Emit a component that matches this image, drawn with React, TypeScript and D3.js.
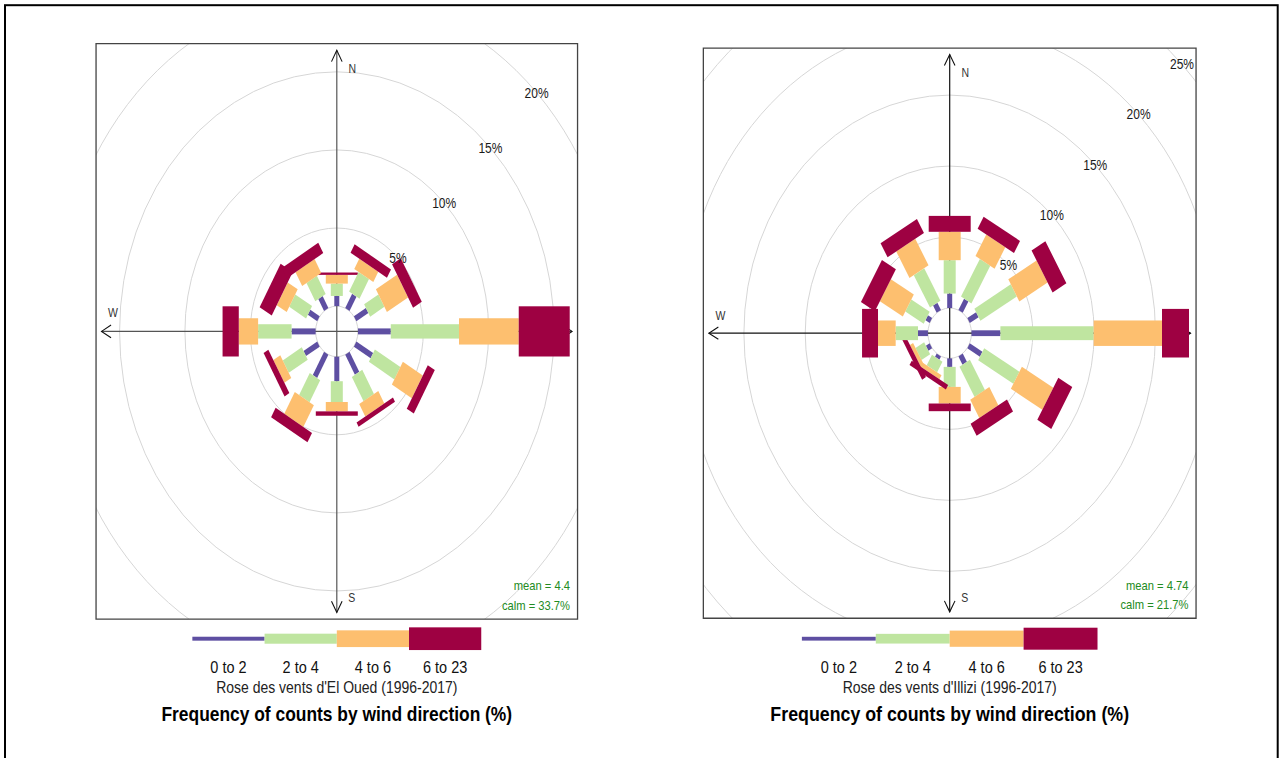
import React from "react";
import * as d3 from "d3";

// Wind directions (degrees clockwise from north) and speed classes
const directions = [0, 30, 60, 90, 120, 150, 180, 210, 240, 270, 300, 330];
const speedBins = ["0 to 2", "2 to 4", "4 to 6", "6 to 23"];
const binColours = ["#5E4FA2", "#BFE5A0", "#FDBF6F", "#9E0142"];
const gridPercents = [0, 5, 10, 15, 20, 25];

// El Oued: frequency (%) per direction for each speed class
const elOued0to2 = [0.65, 1.06, 1.06, 2.51, 1.48, 1.48, 1.57, 1.72, 1.21, 1.84, 0.83, 0.88];
const elOued2to4 = [0.79, 1.45, 1.26, 5.22, 2.25, 1.79, 1.33, 1.63, 1.68, 2.56, 1.49, 1.34];
const elOued4to6 = [0.56, 0.76, 1.87, 4.57, 1.76, 0.92, 0.6, 1.61, 0.61, 1.48, 0.88, 1.02];
const elOued6to23 = [0.15, 0.62, 0.77, 3.9, 0.62, 0.31, 0.28, 0.69, 0.42, 1.24, 1.07, 0.76];

// Illizi: frequency (%) per direction for each speed class
const illizi0to2 = [1.02, 0.92, 0.83, 2.36, 1.19, 0.67, 0.6, 0.26, 0.35, 0.81, 0.39, 0.59];
const illizi2to4 = [2.35, 3.07, 3.43, 7.6, 3.31, 2.46, 1.41, 0.86, 0.81, 1.82, 1.73, 2.64];
const illizi4to6 = [2.0, 1.75, 2.66, 5.57, 2.96, 1.47, 1.17, 0.33, 0.29, 1.44, 2.16, 2.16];
const illizi6to23 = [1.12, 0.98, 1.3, 2.2, 1.31, 0.98, 0.54, 0.36, 0.36, 1.3, 1.31, 1.14];

const FONT = "'Liberation Sans', Arial, Helvetica, sans-serif";
const paddleWidths = [5, 12, 22, 42];
const keyThickness = [3.3, 8.4, 14, 19];

type RoseSpec = {
  id: string;
  cx: number;
  cy: number;
  half: number;
  sy: number;
  pxPerPct: number;
  bins: number[][];
  mean: string;
  calm: string;
  station: string;
  axisColour: string;
  titleSize: number;
};

const roses: RoseSpec[] = [
  {
    id: "eloued",
    cx: 336.8,
    cy: 331.4,
    half: 240.75,
    sy: 1.195,
    pxPerPct: 13.07,
    bins: [elOued0to2, elOued2to4, elOued4to6, elOued6to23],
    mean: "mean = 4.4",
    calm: "calm = 33.7%",
    station: "Rose des vents d'El Oued (1996-2017)",
    axisColour: "#555",
    titleSize: 17.4,
  },
  {
    id: "illizi",
    cx: 949.7,
    cy: 333.2,
    half: 246.35,
    sy: 1.157,
    pxPerPct: 12.27,
    bins: [illizi0to2, illizi2to4, illizi4to6, illizi6to23],
    mean: "mean = 4.74",
    calm: "calm = 21.7%",
    station: "Rose des vents d'Illizi (1996-2017)",
    axisColour: "#111",
    titleSize: 17.8,
  },
];

function WindRose({ spec }: { spec: RoseSpec }) {
  const { id, cx, cy, half, sy, pxPerPct, bins } = spec;

  // total frequency per direction sets the radial extent; the hollow centre is 10% of it
  const totals = directions.map((_, i) => d3.sum(bins, (b) => b[i]));
  const maxFreq = d3.max(totals) as number;
  const hole = maxFreq / 10;
  const r = d3
    .scaleLinear()
    .domain([0, 40])
    .range([0, 40 * pxPerPct]);
  const rad = (v: number) => r(v + hole);

  const segments = directions.flatMap((dir, i) => {
    let cum = 0;
    return bins.map((arr, b) => {
      const lo = cum;
      cum += arr[i];
      return { dir, b, lo, hi: cum };
    });
  });

  const L = half - 5.5;
  const toLocal = (screenY: number) => (screenY - cy) / sy;
  const seg = 0.15 * 2 * half;
  const keyY = toLocal(638.7);
  const clipId = `clip-${id}`;

  const arrow = (angle: number) => (
    <path
      key={`arrow-${angle}`}
      transform={`rotate(${angle})`}
      d={`M${-5.3},${-(L - 9.5)} L0,${-L} L${5.3},${-(L - 9.5)}`}
      fill="none"
      stroke="#111"
      strokeWidth={1.1}
      vectorEffect="non-scaling-stroke"
    />
  );

  const dirLabels = [
    { t: "N", x: 15.5, y: -(L - 15.5) },
    { t: "S", x: 15, y: L - 12.5 },
    { t: "W", x: -(L - 11.5), y: -15.5 },
    { t: "E", x: L - 11.5, y: -15.5 },
  ];

  return (
    <g transform={`translate(${cx},${cy}) scale(1,${sy})`} fontFamily={FONT}>
      <defs>
        <clipPath id={clipId}>
          <rect x={-half} y={-half} width={2 * half} height={2 * half} />
        </clipPath>
      </defs>
      <rect x={-half} y={-half} width={2 * half} height={2 * half} fill="#fff" />
      <g clipPath={`url(#${clipId})`}>
        {gridPercents.map((p) => (
          <circle
            key={`grid-${p}`}
            r={rad(p)}
            fill="none"
            stroke="#d6d6d6"
            strokeWidth={1}
            vectorEffect="non-scaling-stroke"
          />
        ))}
        <line x1={0} y1={-L} x2={0} y2={L} stroke={spec.axisColour} strokeWidth={1.2} vectorEffect="non-scaling-stroke" />
        <line x1={-L} y1={0} x2={L} y2={0} stroke={spec.axisColour} strokeWidth={1.2} vectorEffect="non-scaling-stroke" />
        {[0, 90, 180, 270].map(arrow)}
        {dirLabels.map((d) => (
          <text
            key={d.t}
            x={d.x}
            y={d.y}
            fontSize={10.5}
            fill="#333"
            textAnchor="middle"
            dominantBaseline="central"
          >
            {d.t}
          </text>
        ))}
        {segments
          .filter((s) => s.hi > s.lo)
          .map((s) => (
            <rect
              key={`bar-${s.dir}-${s.b}`}
              transform={`rotate(${s.dir})`}
              x={-paddleWidths[s.b] / 2}
              y={-rad(s.hi)}
              width={paddleWidths[s.b]}
              height={rad(s.hi) - rad(s.lo)}
              fill={binColours[s.b]}
            />
          ))}
        {gridPercents
          .filter((p) => p > 0)
          .map((p) => (
            <text
              key={`lab-${p}`}
              x={rad(p) * Math.SQRT1_2}
              y={-rad(p) * Math.SQRT1_2}
              fontSize={12}
              fill="#1a1a1a"
              textAnchor="middle"
              dominantBaseline="central"
            >
              {`${p}%`}
            </text>
          ))}
        <text x={half - 7.5} y={half - 24.7} fontSize={11.2} fill="#228B22" textAnchor="end">
          {spec.mean}
        </text>
        <text x={half - 7.5} y={half - 7.8} fontSize={11.2} fill="#228B22" textAnchor="end">
          {spec.calm}
        </text>
      </g>
      <rect
        x={-half}
        y={-half}
        width={2 * half}
        height={2 * half}
        fill="none"
        stroke="#444"
        strokeWidth={1.3}
        vectorEffect="non-scaling-stroke"
      />
      {speedBins.map((label, b) => (
        <g key={`key-${b}`}>
          <rect
            x={-2 * seg + b * seg}
            y={keyY - keyThickness[b] / 2}
            width={seg}
            height={keyThickness[b]}
            fill={binColours[b]}
          />
          <text
            x={-2 * seg + (b + 0.5) * seg}
            y={toLocal(672.7)}
            fontSize={14.5}
            fill="#111"
            textAnchor="middle"
          >
            {label}
          </text>
        </g>
      ))}
      <text x={0} y={toLocal(693.3)} fontSize={14} fill="#222" textAnchor="middle">
        {spec.station}
      </text>
      <text
        x={0}
        y={toLocal(720.7)}
        fontSize={spec.titleSize}
        fontWeight="bold"
        fill="#000"
        textAnchor="middle"
      >
        Frequency of counts by wind direction (%)
      </text>
    </g>
  );
}

export default function App() {
  return (
    <svg
      width={1279}
      height={758}
      viewBox="0 0 1279 758"
      style={{ position: "absolute", left: 0, top: 0, display: "block", background: "#fff" }}
    >
      <rect x={0} y={0} width={1279} height={758} fill="#fff" />
      <rect x={5} y={5.2} width={1272.7} height={900} fill="none" stroke="#000" strokeWidth={2} />
      {roses.map((spec) => (
        <WindRose key={spec.id} spec={spec} />
      ))}
    </svg>
  );
}
